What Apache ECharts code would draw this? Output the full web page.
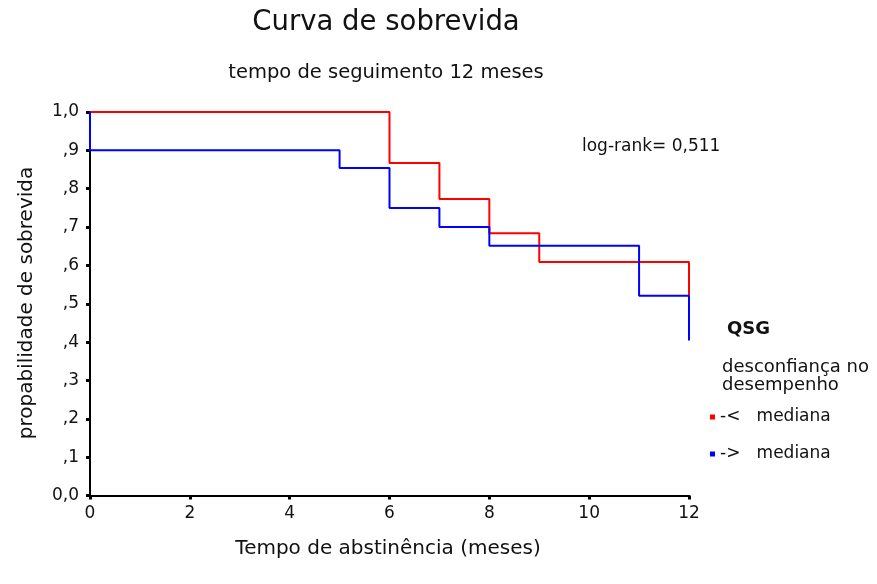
<!DOCTYPE html>
<html>
<head>
<meta charset="utf-8">
<script src="https://cdn.jsdelivr.net/npm/echarts@6/dist/echarts.min.js"></script>
<style>
  html, body { margin: 0; padding: 0; background: #fff; }
  #chart { width: 877px; height: 584px; }
</style>
</head>
<body>
<div id="chart"></div>
<script>
// Kaplan-Meier survival estimates per group (time in months, survival proportion)
const redName = '-<   mediana';
const redTimes = [0, 6, 7, 8, 9, 12];
const redSurv = [1.0, 0.867, 0.773, 0.684, 0.609, 0.521];

const blueName = '->   mediana';
const blueTimes = [0, 0, 5, 6, 7, 8, 11, 12];
const blueSurv = [1.0, 0.9, 0.854, 0.75, 0.70, 0.651, 0.521, 0.404];

// Axis tick labels
const yTickLabels = ['0,0', ',1', ',2', ',3', ',4', ',5', ',6', ',7', ',8', ',9', '1,0'];
const xTickValues = [0, 2, 4, 6, 8, 10, 12];

const titleText = 'Curva de sobrevida';
const subtitleText = 'tempo de seguimento 12 meses';
const xAxisTitle = 'Tempo de abstinência (meses)';
const yAxisTitle = 'propabilidade de sobrevida';
const statText = 'log-rank= 0,511';
const legendTitle = 'QSG';
const legendSubtitle = ['desconfiança no', 'desempenho'];

const FONT = '"DejaVu Sans", sans-serif';
const INK = '#111';

const toPairs = (xs, ys) => xs.map((x, i) => [x, ys[i]]);

const chart = echarts.init(document.getElementById('chart'), null, { renderer: 'canvas' });

const textEl = (text, x, y, size, opts = {}) => ({
  type: 'text',
  x: x,
  y: y,
  rotation: opts.rotation || 0,
  silent: true,
  style: {
    text: text,
    x: 0,
    y: 0,
    fill: INK,
    font: (opts.bold ? 'bold ' : '') + size + 'px ' + FONT,
    textAlign: opts.align || 'left',
    textVerticalAlign: 'middle'
  }
});

chart.setOption({
  animation: false,
  backgroundColor: '#fff',
  grid: { left: 90, right: 188, top: 112, bottom: 88.5, containLabel: false },
  xAxis: {
    type: 'value',
    min: 0,
    max: 12,
    interval: 2,
    splitLine: { show: false },
    axisLine: { show: true, onZero: false, lineStyle: { color: '#000', width: 2 } },
    axisTick: { show: true, length: 4, lineStyle: { color: '#000', width: 3 } },
    axisLabel: {
      margin: 10,
      color: INK,
      fontFamily: FONT,
      fontSize: 17,
      formatter: v => (xTickValues.includes(v) ? String(v) : '')
    }
  },
  yAxis: {
    type: 'value',
    min: 0,
    max: 1,
    interval: 0.1,
    splitLine: { show: false },
    axisLine: { show: true, onZero: false, lineStyle: { color: '#000', width: 2 } },
    axisTick: { show: true, length: 4, lineStyle: { color: '#000', width: 3 } },
    axisLabel: {
      margin: 11,
      color: INK,
      fontFamily: FONT,
      fontSize: 17,
      formatter: v => yTickLabels[Math.round(v * 10)]
    }
  },
  legend: {
    orient: 'vertical',
    left: 710,
    top: 408,
    padding: 0,
    itemGap: 19,
    itemWidth: 5,
    itemHeight: 5,
    icon: 'rect',
    textStyle: { color: INK, fontFamily: FONT, fontSize: 17, lineHeight: 18 },
    data: [redName, blueName]
  },
  series: [
    {
      name: redName,
      type: 'line',
      step: 'end',
      showSymbol: false,
      symbol: 'none',
      color: '#ff0000',
      lineStyle: { color: '#ff0000', width: 2 },
      data: toPairs(redTimes, redSurv)
    },
    {
      name: blueName,
      type: 'line',
      step: 'end',
      showSymbol: false,
      symbol: 'none',
      color: '#0000ff',
      lineStyle: { color: '#0000ff', width: 2 },
      data: toPairs(blueTimes, blueSurv)
    }
  ],
  graphic: [
    textEl(titleText, 386, 23, 27.5, { align: 'center' }),
    textEl(subtitleText, 386, 73, 19.5, { align: 'center' }),
    textEl(xAxisTitle, 388, 549, 20, { align: 'center' }),
    textEl(yAxisTitle, 27, 303, 20, { align: 'center', rotation: Math.PI / 2 }),
    textEl(statText, 582, 147, 17),
    textEl(legendTitle, 727, 329, 18, { bold: true }),
    textEl(legendSubtitle[0], 722, 367, 18),
    textEl(legendSubtitle[1], 722, 385, 18)
  ]
});
</script>
</body>
</html>
